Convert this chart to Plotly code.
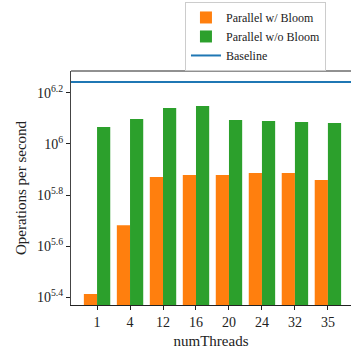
import plotly.graph_objects as go

threads = ["1", "4", "12", "16", "20", "24", "32", "35"]
log_with_bloom = [5.412, 5.682, 5.871, 5.878, 5.878, 5.886, 5.886, 5.859]
log_without_bloom = [6.067, 6.098, 6.141, 6.149, 6.094, 6.090, 6.086, 6.082]
log_baseline = 6.243

tick_exps = ["5.4", "5.6", "5.8", "6", "6.2"]

with_bloom = [10 ** v for v in log_with_bloom]
without_bloom = [10 ** v for v in log_without_bloom]
baseline = 10 ** log_baseline

FONT = "Times New Roman, serif"

fig = go.Figure()
fig.add_trace(go.Bar(x=threads, y=with_bloom, name="Parallel w/ Bloom",
                     marker=dict(color="#ff7f0e", line=dict(width=0))))
fig.add_trace(go.Bar(x=threads, y=without_bloom, name="Parallel w/o Bloom",
                     marker=dict(color="#2ca02c", line=dict(width=0))))
fig.add_trace(go.Scatter(x=[0, 1], y=[baseline, baseline], mode="lines",
                         name="Baseline", xaxis="x2",
                         line=dict(color="#1f77b4", width=2)))

fig.update_layout(
    width=351, height=355,
    margin=dict(l=71, r=0, t=71, b=50),
    paper_bgcolor="white", plot_bgcolor="white",
    font=dict(family=FONT, size=14, color="#222"),
    barmode="group", bargap=0.2, bargroupgap=0,
    showlegend=True,
    legend=dict(x=0.407, y=1.295, xanchor="left", yanchor="top",
                bordercolor="#cccccc", borderwidth=1, bgcolor="white",
                font=dict(family=FONT, size=12, color="#222"), tracegroupgap=0,
                itemwidth=30),
    xaxis=dict(type="category", range=[-0.79, 7.7],
               showline=True, linecolor="#222", linewidth=1, mirror=False,
               ticks="outside", ticklen=4, tickcolor="#222",
               showgrid=False, zeroline=False,
               tickfont=dict(family=FONT, size=14, color="#222"),
               title=dict(text="numThreads", font=dict(family=FONT, size=15), standoff=6)),
    xaxis2=dict(overlaying="x", range=[0, 1], visible=False),
    yaxis=dict(type="log", range=[5.369, 6.286],
               tickvals=[10 ** float(e) for e in tick_exps],
               ticktext=["10<sup>%s</sup>" % e for e in tick_exps],
               showline=True, linecolor="#444", linewidth=1,
               ticks="outside", ticklen=4, tickcolor="#222",
               showgrid=False, zeroline=False,
               tickfont=dict(family=FONT, size=14, color="#222"),
               title=dict(text="Operations per second", font=dict(family=FONT, size=15), standoff=6)),
    shapes=[dict(type="line", xref="paper", yref="paper", x0=0, x1=1, y0=1, y1=1,
                 line=dict(color="#222", width=1))],
)

fig.write_html("out.html")
